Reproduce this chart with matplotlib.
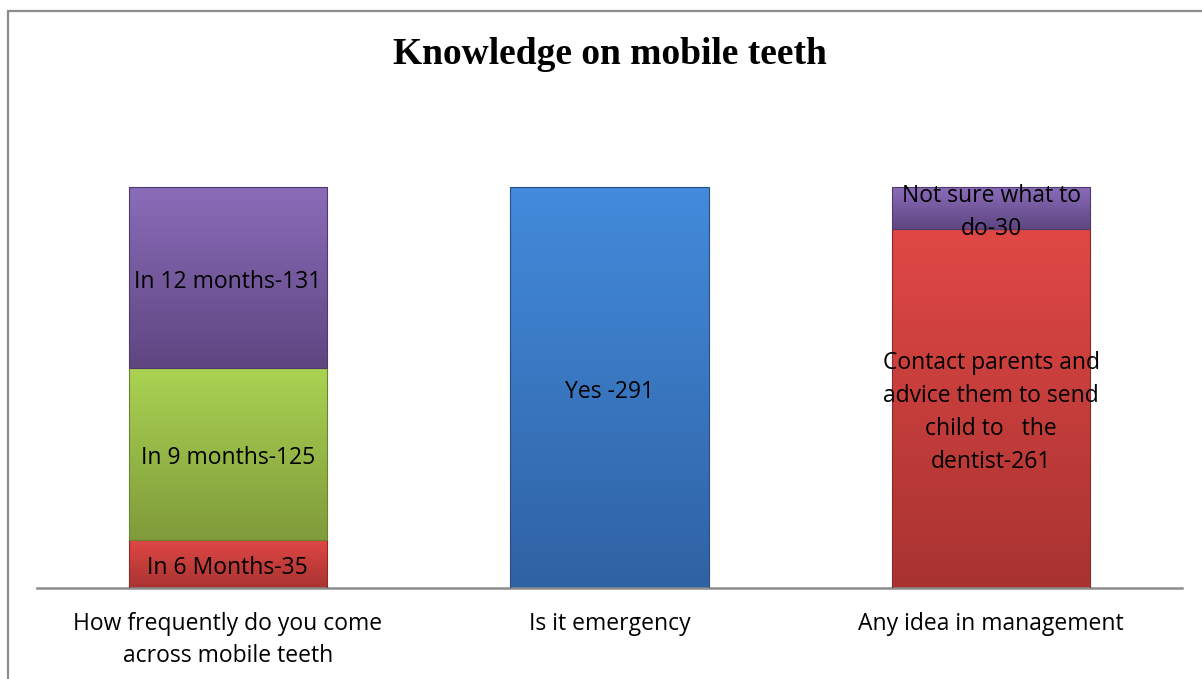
import matplotlib

matplotlib.use("Agg")
import matplotlib.pyplot as plt
import numpy as np
from matplotlib.colors import LinearSegmentedColormap
from matplotlib.patches import Rectangle
from matplotlib.transforms import offset_copy

categories = [
    "How frequently do you come\nacross mobile teeth",
    "Is it emergency",
    "Any idea in management",
]
# segments stacked bottom -> top: (value, label, colour key)
segments = [
    [(35, "In 6 Months-35", "red"), (125, "In 9 months-125", "green"), (131, "In 12 months-131", "purple")],
    [(291, "Yes -291", "blue")],
    [(261, "Contact parents and\nadvice them to send\nchild to   the\ndentist-261", "red"),
     (30, "Not sure what to\ndo-30", "purple")],
]

GRADIENTS = {
    "red": ("#a83331", "#e04845"),
    "green": ("#7f9b3b", "#abd352"),
    "purple": ("#5f4681", "#8a6cb9"),
    "blue": ("#2f62a4", "#438bdc"),
}
EDGES = {"red": "#8c2a28", "green": "#6b8232", "purple": "#4e3a6b", "blue": "#274f85"}


def main() -> None:
    fig = plt.figure(figsize=(12.02, 6.79), dpi=100)
    # chart-area frame (cut off at right / bottom like the original)
    fig.patches.append(Rectangle((8 / 1202, -0.1), 1.2, (679 - 11) / 679 + 0.1,
                                 transform=fig.transFigure, fill=False,
                                 edgecolor="#8c8c8c", linewidth=1.6))

    ax = fig.add_axes([37 / 1202, (679 - 588) / 679, (1182 - 37) / 1202, (588 - 120) / 679])
    label_tr = offset_copy(ax.transData, fig=fig, y=-4, units="dots")

    x = np.arange(len(categories))
    width = 0.52
    grad = np.linspace(0, 1, 256).reshape(-1, 1)
    for xi, segs in zip(x, segments):
        bottom = 0
        for value, label, key in segs:
            bar = ax.bar(xi, value, width=width, bottom=bottom, color="none",
                         edgecolor=EDGES[key], linewidth=0.8, zorder=3)[0]
            cmap = LinearSegmentedColormap.from_list(key, GRADIENTS[key])
            im = ax.imshow(grad, cmap=cmap, origin="lower", aspect="auto",
                           extent=(xi - width / 2, xi + width / 2, bottom, bottom + value),
                           zorder=2)
            im.set_clip_path(bar)
            ax.text(xi, bottom + value / 2, label, ha="center", va="center",
                    fontsize=16.5, family="Open Sans", linespacing=1.5, zorder=4,
                    transform=label_tr)
            bottom += value

    ax.set_xlim(-0.5, 2.5)
    ax.set_ylim(0, 340)
    ax.set_xticks(x, categories, fontsize=16.5, family="Open Sans", linespacing=1.45)
    ax.tick_params(axis="x", length=0, pad=17)
    ax.set_yticks([])
    for side in ["top", "right", "left"]:
        ax.spines[side].set_visible(False)
    ax.spines["bottom"].set_color("#8c8c8c")
    ax.spines["bottom"].set_linewidth(1.8)

    fig.text(610 / 1202, 1 - 55 / 679, "Knowledge on mobile teeth", ha="center", va="center",
             fontsize=27, fontweight="bold", family="Liberation Serif")

    fig.savefig("out.png", dpi=100)


if __name__ == "__main__":
    main()
